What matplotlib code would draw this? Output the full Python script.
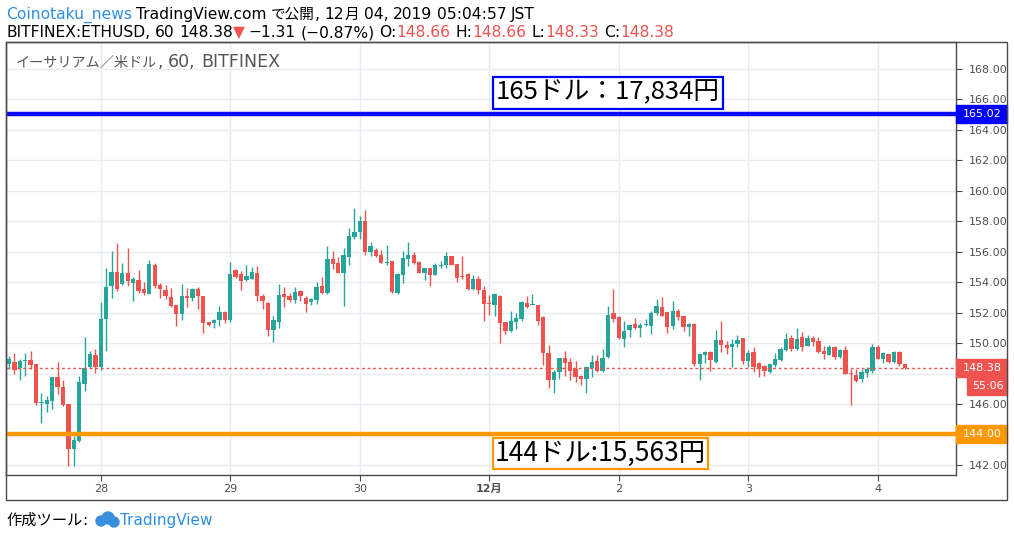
import numpy as np
import matplotlib.pyplot as plt
import matplotlib.transforms as mtransforms
from matplotlib.patches import Rectangle, Ellipse

plt.rcParams['font.family'] = ['DejaVu Sans', 'Noto Sans CJK JP']
JP = ['Noto Sans CJK JP', 'DejaVu Sans']

# ---------------------------------------------------------
# Data: BITFINEX ETHUSD 1h candles, 11/27 07:00 -> 12/04 05:00
# ---------------------------------------------------------
opens = [148.65, 148.76, 148.39, 148.80, 148.90, 148.63, 146.05, 146.00, 146.20, 147.78,
         147.12, 146.00, 143.07, 143.60, 147.34, 148.43, 149.22, 148.43, 151.58, 153.75,
         154.67, 153.90, 154.60, 153.97, 154.15, 153.56, 153.25, 155.13, 153.82, 153.49,
         153.01, 152.48, 151.93, 153.10, 152.98, 153.56, 153.10, 151.37, 151.35, 151.50,
         152.04, 151.54, 154.80, 154.54, 154.13, 154.23, 154.60, 153.10, 152.64, 150.89,
         151.41, 153.23, 153.10, 152.85, 153.44, 152.96, 152.68, 152.85, 153.75, 153.29,
         155.52, 155.26, 154.63, 155.68, 156.99, 157.30, 158.02, 156.00, 156.12, 155.79,
         155.28, 155.39, 153.29, 154.50, 155.55, 155.79, 155.33, 154.63, 154.93, 154.50,
         155.09, 155.11, 155.72, 155.20, 154.39, 154.54, 153.57, 154.21, 153.51, 152.62,
         152.53, 153.10, 151.39, 150.80, 151.41, 151.60, 152.64, 152.50, 152.50, 151.72,
         149.35, 147.58, 148.10, 149.02, 148.76, 148.28, 147.84, 147.62, 148.39, 148.83,
         148.19, 149.11, 151.95, 151.72, 150.27, 150.86, 151.26, 151.01, 151.21, 151.12,
         151.98, 152.37, 152.02, 151.15, 152.11, 151.78, 151.04, 151.26, 148.65, 149.24,
         149.42, 148.78, 150.21, 149.86, 149.77, 149.96, 150.34, 148.85, 149.42, 148.70,
         148.50, 148.10, 148.59, 148.91, 149.55, 150.34, 149.61, 150.40, 149.84, 150.34,
         150.14, 149.48, 149.24, 149.75, 149.09, 149.55, 148.06, 147.91, 147.64, 148.02,
         148.19, 149.75, 148.96, 149.29, 148.76, 149.42, 148.66]
highs = [149.16, 149.35, 148.96, 149.35, 149.48, 148.63, 146.73, 146.53, 147.80, 148.76,
         147.58, 146.00, 143.88, 147.86, 150.42, 149.48, 149.64, 152.73, 154.95, 156.05,
         156.57, 155.28, 156.25, 154.34, 154.80, 154.03, 155.46, 155.28, 153.97, 153.82,
         153.62, 152.50, 153.88, 153.62, 153.60, 153.67, 153.10, 151.40, 151.57, 152.44,
         152.10, 155.33, 154.85, 154.76, 155.13, 155.00, 155.07, 153.23, 152.70, 151.78,
         153.88, 153.67, 153.31, 153.69, 153.51, 153.10, 152.96, 154.01, 154.34, 156.38,
         156.05, 155.68, 156.25, 157.58, 158.87, 158.35, 158.74, 156.64, 156.25, 156.12,
         156.44, 155.40, 154.60, 156.05, 156.64, 155.98, 155.40, 154.95, 154.95, 155.24,
         155.39, 155.98, 155.75, 155.20, 155.72, 154.60, 154.45, 154.41, 153.75, 153.16,
         153.27, 153.16, 151.40, 152.11, 151.95, 152.75, 153.11, 153.23, 152.50, 151.75,
         149.88, 148.24, 149.05, 149.50, 149.00, 148.85, 147.90, 148.50, 149.22, 149.20,
         149.61, 152.44, 153.56, 151.75, 151.45, 151.20, 151.65, 151.30, 151.57, 152.13,
         152.90, 153.03, 152.05, 152.77, 152.24, 151.80, 151.30, 151.30, 149.30, 149.50,
         149.45, 150.86, 151.45, 150.14, 150.29, 150.53, 150.35, 149.57, 149.75, 148.75,
         148.55, 148.65, 149.35, 149.73, 150.64, 150.51, 150.99, 150.71, 150.53, 150.45,
         150.40, 149.81, 149.90, 149.78, 149.60, 149.81, 148.32, 148.32, 148.32, 148.45,
         149.94, 149.88, 149.42, 149.30, 149.48, 149.45, 148.66]
lows = [148.28, 148.00, 147.60, 147.86, 148.32, 145.96, 144.78, 145.50, 145.68, 146.68,
        145.90, 141.95, 141.95, 143.50, 146.88, 148.35, 148.06, 148.24, 149.50, 152.96,
        153.40, 153.80, 153.75, 152.79, 153.30, 153.16, 153.20, 153.60, 152.98, 152.92,
        152.40, 151.12, 151.52, 152.37, 152.79, 152.26, 150.69, 151.15, 151.01, 151.12,
        151.35, 151.39, 154.30, 153.49, 154.08, 154.20, 152.79, 152.24, 150.47, 150.10,
        151.01, 152.40, 152.70, 152.66, 152.79, 152.04, 152.53, 152.59, 153.23, 153.20,
        154.87, 154.60, 152.44, 155.15, 156.84, 156.84, 155.81, 155.74, 155.68, 155.25,
        155.15, 153.27, 153.25, 153.97, 155.04, 155.20, 154.60, 154.15, 153.77, 154.45,
        154.93, 154.95, 155.10, 154.03, 154.20, 153.50, 153.50, 153.21, 151.48, 151.85,
        151.80, 150.03, 150.60, 150.75, 150.93, 151.48, 152.29, 152.48, 151.19, 148.58,
        147.07, 146.74, 147.64, 147.86, 147.58, 147.47, 147.23, 146.70, 147.80, 148.10,
        148.10, 149.00, 151.40, 150.30, 149.77, 150.38, 150.91, 150.42, 151.12, 150.62,
        151.83, 151.75, 150.64, 150.91, 151.54, 150.80, 150.49, 148.52, 147.58, 148.70,
        148.19, 148.70, 149.42, 149.29, 148.45, 149.73, 148.63, 148.45, 148.13, 147.80,
        147.86, 148.02, 148.43, 148.85, 149.50, 149.50, 149.55, 149.47, 149.80, 149.81,
        149.35, 148.98, 149.20, 148.98, 149.02, 147.95, 145.96, 147.45, 147.47, 147.80,
        148.06, 148.95, 148.72, 148.72, 148.72, 148.52, 148.33]
closes = [148.96, 148.26, 148.83, 148.85, 148.56, 146.07, 146.10, 146.25, 147.78, 147.14,
          145.96, 143.07, 143.64, 147.45, 148.35, 149.27, 148.43, 151.58, 153.71, 154.67,
          153.56, 154.60, 154.10, 154.19, 153.42, 153.27, 155.20, 153.75, 153.56, 153.11,
          152.44, 151.93, 153.10, 152.98, 153.56, 153.10, 151.35, 151.21, 151.50, 152.04,
          151.54, 154.54, 154.34, 154.10, 154.41, 154.67, 153.10, 152.79, 150.89, 151.52,
          153.16, 153.05, 152.83, 153.36, 153.10, 152.59, 152.90, 153.67, 153.29, 155.52,
          155.22, 154.63, 155.79, 157.04, 157.30, 158.02, 156.00, 156.38, 155.74, 155.28,
          155.33, 153.38, 154.54, 155.59, 155.79, 155.28, 154.63, 154.93, 154.50, 155.13,
          155.15, 155.72, 155.15, 154.30, 154.32, 153.57, 154.21, 153.51, 152.55, 152.55,
          153.23, 151.35, 150.80, 151.45, 151.67, 152.70, 152.39, 152.57, 151.48, 149.33,
          147.58, 148.13, 149.02, 148.68, 148.19, 147.80, 147.64, 148.45, 148.76, 148.19,
          149.00, 151.85, 151.57, 150.36, 150.80, 151.17, 151.01, 151.19, 151.28, 151.98,
          152.46, 151.80, 151.04, 152.11, 151.74, 151.04, 151.26, 148.65, 149.29, 149.42,
          148.89, 150.21, 149.90, 149.68, 149.94, 150.21, 148.85, 149.35, 148.41, 148.32,
          148.19, 148.63, 148.96, 149.61, 150.27, 149.59, 150.27, 149.73, 150.34, 150.08,
          149.42, 149.31, 149.75, 149.11, 149.55, 147.99, 147.95, 147.53, 148.10, 148.28,
          149.75, 148.98, 149.37, 148.76, 149.42, 148.65, 148.38]

day_pos = [17, 41, 65, 89, 113, 137, 161]          # candle index of 00:00 each day
day_labels = ['28', '29', '30', '12月', '2', '3', '4']
price_ticks = np.arange(142, 170, 2)

resistance = 165.02
support = 144.00
last_price = 148.38
countdown = '55:06'
note_top = '165ドル：17,834円'
note_bottom = '144ドル:15,563円'

UP, DOWN = '#26a69a', '#ef5350'
GRID = '#e6ecf1'
FRAME = '#4a4a4a'
BLUE_TXT = '#2f8ee0'

# ---------------------------------------------------------
# Figure / axes
# ---------------------------------------------------------
W, H = 1014, 537
fig = plt.figure(figsize=(W / 100, H / 100), dpi=100)
ax = fig.add_axes([6 / W, 1 - 475 / H, 950 / W, 433 / H])

o, hi, lo, c = map(np.array, (opens, highs, lows, closes))
x = np.arange(len(o))
cols = np.where(c >= o, UP, DOWN)

ax.vlines(x, lo, hi, colors=cols, lw=1, zorder=3)
ax.bar(x, np.maximum(np.abs(c - o), 0.07), bottom=np.minimum(o, c), width=0.8,
       color=cols, linewidth=0, zorder=3)

ax.set_xlim(-0.56, 175.5)
ax.set_ylim(141.34, 169.77)

# grid + scales
ax.set_yticks(price_ticks)
# 144 and 148 sit under the coloured tags
ax.set_yticklabels(['' if v in (144, 148) else f'{v:.2f}' for v in price_ticks])
ax.set_xticks(day_pos)
ax.set_xticklabels(day_labels)
ax.grid(True, color=GRID, lw=1)
ax.set_axisbelow(True)

ax.yaxis.tick_right()
ax.tick_params(axis='y', length=4, color=FRAME, labelcolor='#4f4f4f', labelsize=8, pad=5)
ax.tick_params(axis='x', length=4, color=FRAME, labelcolor='#4f4f4f', labelsize=8, pad=2.5)
ax.get_xticklabels()[3].set_fontweight('bold')
for s in ax.spines.values():
    s.set_color(FRAME)
    s.set_linewidth(1)

# levels
ax.axhline(resistance, color='#0a0af5', lw=3.2, zorder=4)
ax.axhline(support, color='#ff9800', lw=3.2, zorder=4)
ax.axhline(last_price, color=DOWN, lw=1, ls=(0, (2, 2)), zorder=4)

# price tags on the right scale
trans = mtransforms.blended_transform_factory(fig.transFigure, ax.transData)
tag_h = 18 / 15.23


def price_tag(y, txt, color, x0=956, x1=1007):
    ax.add_patch(Rectangle((x0 / W, y - tag_h / 2), (x1 - x0) / W, tag_h, transform=trans,
                           color=color, clip_on=False, zorder=6))
    ax.text((x0 + x1) / 2 / W + 1 / W, y, txt, transform=trans, color='white', ha='center',
            va='center', fontsize=8, clip_on=False, zorder=7)


price_tag(resistance, f'{resistance:.2f}', '#0000ff')
price_tag(support, f'{support:.2f}', '#ff9800')
price_tag(last_price, f'{last_price:.2f}', DOWN)
price_tag(last_price - tag_h, countdown, DOWN, x0=967)

# boxed notes
ax.text(111, 166.44, note_top, ha='center', va='center', fontsize=18.5, family=JP,
        bbox=dict(boxstyle='square,pad=0.12', fc='white', ec='#0000ff', lw=1.6), zorder=6)
ax.text(109.6, 142.75, note_bottom, ha='center', va='center', fontsize=19, family=JP,
        bbox=dict(boxstyle='square,pad=0.06', fc='white', ec='#ff9800', lw=1.6), zorder=6)

# outer frame
fig.add_artist(Rectangle((6 / W, 1 - 500 / H), 1001 / W, 458 / H, transform=fig.transFigure,
                         fill=False, ec=FRAME, lw=1))

# ---------------------------------------------------------
# Text rows (latin in DejaVu, kana/kanji in Noto CJK)
# ---------------------------------------------------------
renderer = fig.canvas.get_renderer()


def split_runs(s):
    out = []
    for ch in s:
        cls = 'sp' if ch == ' ' else ('cjk' if ord(ch) >= 0x3000 else 'lat')
        if out and out[-1][0] == cls:
            out[-1][1] += ch
        else:
            out.append([cls, ch])
    return out


def write(px, py, s, color, lat, cjk, zorder=3):
    for cls, txt in split_runs(s):
        if cls == 'sp':
            px += len(txt) * 0.3 * lat * 100 / 72
            continue
        fam, size = ('Noto Sans CJK JP', cjk) if cls == 'cjk' else ('DejaVu Sans', lat)
        t = fig.text(px / W, 1 - py / H, txt, color=color, fontsize=size, family=fam,
                     va='baseline', zorder=zorder)
        px = t.get_window_extent(renderer).x1
    return px


# header
px = write(6, 19, 'Coinotaku_news', BLUE_TXT, 11.2, 10.5)
write(px + 4, 19, 'TradingView.com で公開, 12月 04, 2019 05:04:57 JST', 'black', 11.2, 10.5)

row2 = [('BITFINEX:ETHUSD, 60 148.38', 'black', 0), ('▼', DOWN, 4),
        ('−1.31 (−0.87%) O:', 'black', 0), ('148.66', DOWN, 5),
        ('H:', 'black', 0), ('148.66', DOWN, 5),
        ('L:', 'black', 0), ('148.33', DOWN, 5),
        ('C:', 'black', 0), ('148.38', DOWN, 0)]
px = 6
for txt, col, gap in row2:
    px = write(px, 37, txt, col, 11.2, 10.5) + gap

# pane legend
write(16, 67, 'イーサリアム／米ドル, 60, BITFINEX', '#555555', 12.5, 10.2, zorder=5)

# footer
write(6, 525, '作成ツール:', 'black', 11, 11)
for cx, cy, r in [(101, 521, 5), (108, 518, 6), (114, 522, 5)]:
    fig.add_artist(Ellipse((cx / W, 1 - cy / H), 2 * r / W, 2 * r / H, transform=fig.transFigure,
                           color='#3a8fdc'))
write(120, 525, 'TradingView', BLUE_TXT, 11, 11)

fig.savefig('out.png', dpi=100)
